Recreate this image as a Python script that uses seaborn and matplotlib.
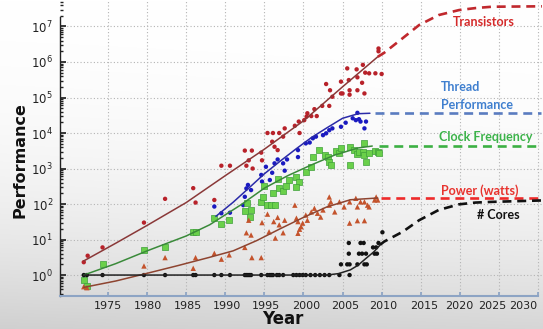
import numpy as np
import matplotlib
matplotlib.use("Agg")
import matplotlib.pyplot as plt
import matplotlib.transforms as mtransforms
import seaborn as sns

# ---------------- measured data ----------------
# Transistors (thousands)
trans_year = [1971.9, 1972.4, 1974.3, 1979.6, 1982.3, 1985.9, 1986.2, 1988.6, 1989.5, 1990.6,
              1992.5, 1993.4, 1993.0, 1992.7, 1993.5, 1994.6, 1994.7, 1995.4, 1996.1, 1996.9,
              1996.0, 1996.3, 1996.7, 1997.4, 1997.6, 1998.9, 1999.4, 1999.5, 2000.5, 2000.4,
              2000.1, 2001.0, 2001.7, 2001.4, 2002.4, 2003.3, 2002.9, 2003.4, 2003.7, 2004.8,
              2004.8, 2005.0, 2005.9, 2005.9, 2005.8, 2005.6, 2006.8, 2006.9, 2006.9, 2007.5,
              2007.6, 2007.8, 2007.9, 2008.4, 2009.2, 2010.0, 2009.6, 2009.6]
trans_val = [2.3, 3.5, 6, 30, 140, 280, 110, 130, 1200, 1200,
             3200, 3200, 1700, 1200, 1000, 2800, 1700, 10000, 10000, 10000,
             5700, 4100, 3300, 7900, 13500, 16000, 21000, 10000, 36000, 29000,
             23000, 30000, 30000, 47000, 58000, 58000, 240000, 160000, 105000, 130000,
             280000, 130000, 120000, 160000, 310000, 660000, 620000, 370000, 160000, 260000,
             830000, 130000, 500000, 480000, 480000, 460000, 2400000, 2000000]

# Single-thread performance
thread_year = [1988.6, 1989.5, 1990.6, 1992.3, 1992.5, 1992.7, 1992.9, 1993.3, 1994.6, 1994.7,
               1995.2, 1995.7, 1996.0, 1996.3, 1996.7, 1997.4, 1997.6, 1997.9, 1999.3, 1999.3,
               2000.3, 2000.8, 2001.2, 2001.6, 2002.5, 2002.9, 2003.3, 2003.7, 2004.8, 2005.4,
               2006.3, 2006.7, 2006.9, 2007.1, 2007.3, 2008.0, 2007.8]
thread_val = [85, 55, 57, 93, 160, 275, 345, 247, 660, 430,
              1120, 475, 760, 1400, 1800, 1400, 870, 1800, 2100, 3300,
              5100, 5400, 7100, 7900, 8700, 9800, 12000, 13500, 15000, 19500,
              26000, 23000, 37000, 24500, 21000, 21000, 13500]

# Clock frequency (MHz)
clock_year = [1971.9, 1972.3, 1974.3, 1979.6, 1982.3, 1985.9, 1986.3, 1988.6, 1989.5, 1990.5,
              1992.5, 1992.8, 1993.3, 1993.1, 1994.6, 1994.8, 1995.0, 1995.4, 1995.9, 1996.4,
              1996.1, 1996.7, 1996.9, 1997.4, 1997.8, 1998.2, 1999.1, 1999.4, 1999.1, 2000.3,
              2001.0, 2001.2, 2002.0, 2002.7, 2003.1, 2003.3, 2003.5, 2004.1, 2004.6, 2004.8,
              2005.9, 2005.9, 2006.5, 2006.8, 2007.1, 2007.6, 2007.8, 2007.8, 2008.0, 2008.4,
              2009.1, 2009.5, 2009.7]
clock_val = [0.72, 0.5, 2, 5, 6, 16.5, 16.5, 41, 27, 35,
             62, 105, 70, 44, 115, 160, 320, 93, 93, 93,
             200, 500, 275, 237, 320, 475, 560, 425, 295, 810,
             1120, 2150, 3300, 2400, 2150, 1550, 1250, 3200, 2700, 3700,
             4100, 1250, 3300, 2550, 2950, 2950, 2400, 5100, 1480, 2700,
             3200, 3000, 2700]

# Typical power (watts)
power_year = [1971.9, 1972.3, 1979.6, 1982.3, 1985.9, 1986.2, 1988.6, 1989.5, 1990.5, 1992.5,
              1992.7, 1993.3, 1993.0, 1993.4, 1994.6, 1994.7, 1995.4, 1995.6, 1996.2, 1996.4,
              1996.7, 1996.9, 1997.6, 1997.4, 1998.9, 1999.1, 1999.3, 1999.5, 1999.3, 1999.7,
              1999.9, 2000.3, 2000.5, 2001.0, 2001.4, 2001.8, 2002.2, 2002.5, 2003.3, 2003.3,
              2003.5, 2004.0, 2004.6, 2005.2, 2005.9, 2005.9, 2006.7, 2006.9, 2006.9, 2007.3,
              2007.8, 2007.8, 2008.2, 2008.4, 2009.1, 2009.3, 2009.5]
power_val = [0.47, 0.44, 1.8, 3.1, 1.55, 3.1, 4.1, 2.8, 3.7, 6,
             15.5, 13.4, 35, 3.1, 3.1, 30, 52, 16.5, 32, 11,
             42, 26, 35, 15.5, 93, 40, 32, 19.5, 15, 23,
             29, 49, 35, 60, 76, 55, 43, 68, 158, 93,
             115, 60, 115, 83, 115, 29, 145, 83, 34, 115,
             115, 34, 93, 83, 130, 158, 130]

# Number of cores
cores_year = [1971.9, 1972.3, 1974.3, 1979.6, 1982.3, 1985.9, 1986.2, 1988.6, 1989.5, 1990.6,
              1992.5, 1992.7, 1992.9, 1993.1, 1993.3, 1994.6, 1995.4, 1995.7, 1995.9, 1996.1,
              1996.6, 1996.9, 1997.4, 1998.7, 1999.1, 1999.5, 1999.9, 2000.3, 2000.9, 2001.5,
              2002.1, 2002.7, 2003.3, 2004.6, 2005.9,
              2004.8, 2005.6, 2005.9, 2006.9, 2007.8, 2008.1,
              2005.8, 2007.1, 2007.5, 2008.0, 2009.1, 2009.4,
              2008.9, 2009.3,
              2005.8, 2007.3, 2007.7, 2009.6,
              2010.1]
cores_val = [1] * 35 + [2] * 6 + [4] * 6 + [6] * 2 + [8] * 4 + [16]

# Trend curves (knots) and projections
trans_fit_year = [1971.9, 1976, 1980, 1985, 1990, 1995, 2000, 2005, 2009.5]
trans_fit_val = [2.5, 7.9, 25, 110, 630, 3500, 22000, 200000, 1400000]
trans_proj_year = [2009.5, 2010.3, 2012.7, 2014.8, 2017.3, 2019.9, 2022, 2024.1, 2030.5]
trans_proj_val = [1.4e6, 1.8e6, 4.7e6, 1.1e7, 2.1e7, 2.9e7, 3.3e7, 3.6e7, 3.7e7]

thread_fit_year = [1988.8, 1991, 1993, 1995, 1997, 1999, 2001, 2003, 2005, 2007, 2008.5]
thread_fit_val = [45, 112, 280, 710, 1600, 3500, 7400, 14000, 26000, 35000, 36000]
thread_proj_year = [2009.2, 2030.4]
thread_proj_val = [36000, 36000]

clock_fit_year = [1971.9, 1976, 1980, 1985, 1988, 1992, 1995, 1998, 2001, 2004, 2007, 2008.8]
clock_fit_val = [1.0, 2.1, 4.8, 12.6, 26, 95, 280, 630, 1260, 2400, 3800, 4300]
clock_proj_year = [2009.6, 2030.4]
clock_proj_val = [4400, 4400]

power_fit_year = [1971.9, 1976, 1980, 1984, 1988, 1991, 1994, 1997, 2000, 2003, 2006, 2009.5]
power_fit_val = [0.45, 0.68, 1.12, 1.86, 3.16, 4.8, 9.3, 20, 42, 83, 132, 148]
power_proj_year = [2009.9, 2030.4]
power_proj_val = [145, 145]

cores_fit_year = [1971.9, 2003, 2004.5, 2006, 2007, 2008, 2009, 2009.8]
cores_fit_val = [1, 1, 1.1, 1.4, 1.9, 2.95, 4.5, 7]
cores_proj_year = [2009.8, 2010.3, 2012.7, 2014.8, 2017.3, 2019.9, 2022, 2024.1, 2030.4]
cores_proj_val = [7.1, 8.7, 16.6, 35, 68, 98, 110, 115, 126]

year_ticks = list(range(1975, 2031, 5))
# small horizontal nudges (pixels) of the year labels
year_label_shift = [0, 1, 2, 2, 2, 3, 3, 2, 3, -1, -7, -15]

# ---------------- figure ----------------
sns.set_theme(style="white")
W, H = 543, 329
fig = plt.figure(figsize=(W / 100, H / 100), dpi=100)

# soft grey backdrop that darkens toward the bottom
bg = fig.add_axes([0, 0, 1, 1], zorder=-10)
t = np.linspace(0, 1, H)[:, None]
s = np.linspace(0, 1, W)[None, :]
shade = np.clip(1.0 - 0.16 * t ** 2.5 - 0.025 * (1 - s) * t, 0, 1)
bg.imshow(np.dstack([shade] * 3), aspect="auto", extent=[0, 1, 0, 1], origin="upper")
bg.set_axis_off()

ax = fig.add_axes([60 / W, 33 / H, 483 / W, 296 / H])
ax.set_facecolor("none")
ax.set_yscale("log")
ax.set_xlim(1968.86, 2030.64)
ax.set_ylim(10 ** -0.59, 10 ** 7.746)

# scatter data
sns.scatterplot(x=trans_year, y=trans_val, ax=ax, color="#b8222a", marker="o", s=10,
                edgecolor="none", zorder=3)
sns.scatterplot(x=thread_year, y=thread_val, ax=ax, color="#1a1ac0", marker="o", s=10,
                edgecolor="none", zorder=3)
sns.scatterplot(x=clock_year, y=clock_val, ax=ax, color="#6ad04a", marker="s", s=13,
                edgecolor="#3fa03a", linewidth=0.5, zorder=3)
sns.scatterplot(x=power_year, y=power_val, ax=ax, color="#c4532c", marker="^", s=15,
                edgecolor="none", zorder=3)
sns.scatterplot(x=cores_year, y=cores_val, ax=ax, color="#111111", marker="o", s=10,
                edgecolor="none", zorder=3)

# fitted trends
solid = dict(ax=ax, lw=1.1, estimator=None, sort=False, zorder=4)
sns.lineplot(x=trans_fit_year, y=trans_fit_val, color="#8a3838", **solid)
sns.lineplot(x=thread_fit_year, y=thread_fit_val, color="#2a2aa8", **solid)
sns.lineplot(x=clock_fit_year, y=clock_fit_val, color="#3a8a3a", **solid)
sns.lineplot(x=power_fit_year, y=power_fit_val, color="#8e4430", **solid)
sns.lineplot(x=cores_fit_year, y=cores_fit_val, color="#222222", **solid)

# projections (dashed)
proj = [
    (trans_proj_year, trans_proj_val, "#c0282d"),
    (thread_proj_year, thread_proj_val, "#5a7cc0"),
    (clock_proj_year, clock_proj_val, "#3cb043"),
    (power_proj_year, power_proj_val, "#ee2a2a"),
    (cores_proj_year, cores_proj_val, "#111111"),
]
for px, py, col in proj:
    sns.lineplot(x=px, y=py, ax=ax, color=col, lw=1.9, estimator=None, sort=False, zorder=4)
    ax.lines[-1].set_linestyle((0, (3.4, 2.2)))

# series labels
lab = dict(family="Lato", weight="bold", size=9, ha="left", va="center")
ax.text(2019.1, 10 ** 7.13, "Transistors", color="#d42a2a", **lab)
ax.text(2017.6, 10 ** 5.30, "Thread", color="#3f7fcf", **lab)
ax.text(2017.6, 10 ** 4.79, "Performance", color="#3f7fcf", **lab)
ax.text(2017.35, 10 ** 3.89, "Clock Frequency", color="#3cb34a", **lab)
ax.text(2017.6, 10 ** 2.39, "Power (watts)", color="#e8332e", **lab)
ax.text(2022.2, 10 ** 1.69, "# Cores", color="#111111", **lab)

# axes styling
ax.set_xticks(year_ticks)
ax.grid(True, which="major", ls=(0, (1, 2)), color="#b4b4b4", lw=0.8)
ax.tick_params(axis="x", which="both", bottom=True, direction="in", length=3,
               labelbottom=False, color="#8da4c4")
ax.tick_params(axis="y", which="major", left=True, direction="in", length=4,
               labelsize=8.5, pad=5, color="#222222", labelcolor="#222222")
ax.tick_params(axis="y", which="minor", left=True, direction="in", length=2, color="#222222")

# year labels just under the axis
for yr, dx in zip(year_ticks, year_label_shift):
    tr = mtransforms.offset_copy(ax.get_xaxis_transform(), fig=fig, x=dx, y=-10, units="dots")
    ax.text(yr, 0, str(yr), transform=tr, ha="center", va="center",
            fontsize=8, color="#222222")

for side in ("top", "right"):
    ax.spines[side].set_visible(False)
ax.spines["left"].set_color("#222222")
ax.spines["left"].set_linewidth(1.0)
ax.spines["left"].set_bounds(10 ** -0.59, 10 ** 7.27)
ax.spines["bottom"].set_color("#8da4c4")
ax.spines["bottom"].set_linewidth(1.5)
ax.spines["bottom"].set_bounds(1968.86, 2030.0)

fig.text(283 / W, 1 - 324.5 / H, "Year", fontsize=12, fontweight="bold",
         color="#111111", ha="center", va="baseline")
fig.text(20 / W, 1 - 160 / H, "Performance", fontsize=11.5, fontweight="bold",
         color="#111111", ha="center", va="center", rotation=90)

fig.savefig("out.png", dpi=100)
